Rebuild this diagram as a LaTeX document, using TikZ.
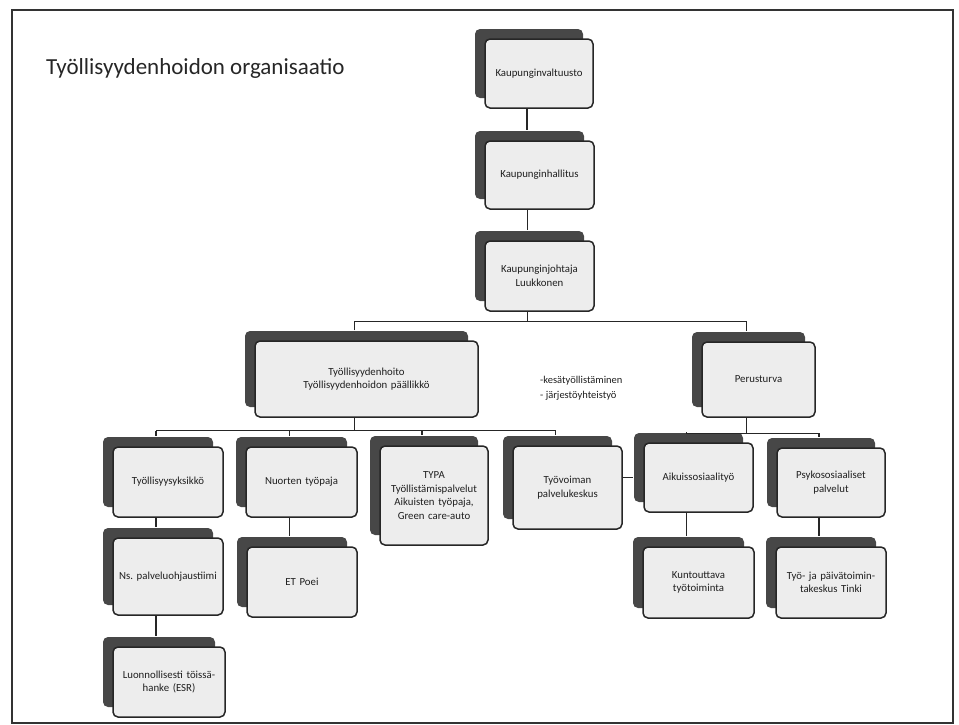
\documentclass[tikz,border=0pt]{standalone}
\usepackage{fontspec}
\setmainfont{Carlito}
\usetikzlibrary{shadows}
\frenchspacing
\newcommand\boxfont{\fontsize{10.8}{13.5}\selectfont}
\tikzset{
  orgbox/.style={draw=black!85, line width=1.5pt, rounded corners=5pt, fill=black!7,
    align=center, font=\boxfont, text=black!88, inner sep=2pt,
    general shadow={fill=black!72, shadow xshift=-10pt, shadow yshift=10pt}},
  conn/.style={draw=black!85, line width=1.9pt},
  bus/.style={draw=black!85, line width=1.3pt},
}
\newcommand\ob[7]{% name, x1,y1,x2,y2, text
  \node[orgbox, minimum width={(#4-#2)*1pt}, minimum height={(#5-#3)*1pt}, text width={(#4-#2-6)*1pt}] (#1) at ({(#2+#4)/2},{(#3+#5)/2}) {#6};}
\begin{document}
\begin{tikzpicture}[x=1pt,y=-1pt]
\useasboundingbox (0,0) rectangle (959,724);
\draw[line width=1.6pt, black!80] (12,10) rectangle (953,723);
\node[anchor=west, font=\fontsize{23}{27}\selectfont, text=black!85, inner sep=0] (title) at (46,68) {Työllisyydenhoidon organisaatio};

\ob{valt}{485}{39}{593}{108}{Kaupunginvaltuusto}{}
\ob{hall}{485}{141}{594}{209}{Kaupunginhallitus}{}
\ob{joht}{485}{241}{594}{311}{Kaupunginjohtaja\\Luukkonen}{}
\ob{tyoll}{255}{341}{478}{417}{Työllisyydenhoito\\Työllisyydenhoidon päällikkö}{}
\ob{perus}{702}{342}{815}{417}{Perusturva}{}
\ob{yks}{113}{447}{223}{517}{Työllisyysyksikkö}{}
\ob{nuor}{246}{447}{357}{517}{Nuorten työpaja}{}
\ob{typa}{380}{446}{488}{545}{TYPA\\Työllistämispalvelut\\Aikuisten työpaja,\\Green care-auto}{}
\ob{tyov}{513}{446}{622}{529}{Työvoiman\\palvelukeskus}{}
\ob{aikuis}{644}{443}{753}{512}{Aikuissosiaalityö}{}
\ob{psyk}{777}{448}{885}{517}{Psykososiaaliset\\palvelut}{}
\ob{ns}{113}{538}{223}{615}{Ns. palveluohjaustiimi}{}
\ob{et}{247}{547}{357}{617}{ET Poei}{}
\ob{luon}{113}{647}{225}{717}{Luonnollisesti töissä-\\hanke (ESR)}{}
\ob{kunt}{643}{547}{754}{618}{Kuntouttava\\työtoiminta}{}
\ob{tinki}{776}{547}{886}{618}{Työ- ja päivätoimin-\\takeskus Tinki}{}

\node[anchor=west, align=left, font=\fontsize{10.5}{15}\selectfont, text=black!88, inner sep=0] (side) at (540,388.5) {-kesätyöllistäminen\\- järjestöyhteistyö};

% connectors
\draw[conn] ([xshift=-12pt]valt.south) -- ([xshift=-12pt,yshift=10pt]valt.south |- hall.north);
\draw[conn] ([xshift=-12pt]hall.south) -- ([xshift=-12pt,yshift=10pt]hall.south |- joht.north);
\coordinate (b1) at ([xshift=-12pt,yshift=-10pt]joht.south);
\draw[conn] ([xshift=-12pt]joht.south) -- (b1);
\draw[bus] ([xshift=-12pt,yshift=10pt]tyoll.north) -- ([xshift=-12pt]tyoll.north |- b1) -- ([xshift=-12pt]perus.north |- b1) -- ([xshift=-12pt,yshift=10pt]perus.north);
% Tyollisyydenhoito branch
\coordinate (b2) at ([xshift=-12pt,yshift=-13pt]tyoll.south);
\draw[conn] ([xshift=-12pt]tyoll.south) -- (b2);
\draw[bus] ([xshift=-12pt]yks.north |- b2) -- ([xshift=-12pt]tyov.north |- b2);
\foreach \n in {yks,nuor,typa,tyov}{
  \draw[bus] ([xshift=-12pt]\n.north |- b2) -- ([xshift=-12pt,yshift=10pt]\n.north);}
% Perusturva branch
\coordinate (b3) at ([xshift=-12pt,yshift=-16pt]perus.south);
\draw[conn] ([xshift=-12pt]perus.south) -- (b3);
\draw[bus] ([xshift=-12pt,yshift=10pt]aikuis.north) -- ([xshift=-12pt]aikuis.north |- b3) -- ([xshift=-12pt]psyk.north |- b3) -- ([xshift=-12pt,yshift=10pt]psyk.north);
% vertical chains
\draw[conn] ([xshift=-12pt]yks.south) -- ([xshift=-12pt,yshift=10pt]yks.south |- ns.north);
\draw[conn] ([xshift=-12pt]ns.south) -- ([xshift=-12pt,yshift=10pt]ns.south |- luon.north);
\draw[conn] ([xshift=-12pt]nuor.south) -- ([xshift=-12pt,yshift=10pt]nuor.south |- et.north);
\draw[conn] ([xshift=-12pt]aikuis.south) -- ([xshift=-12pt,yshift=10pt]aikuis.south |- kunt.north);
\draw[conn] ([xshift=-12pt]psyk.south) -- ([xshift=-12pt,yshift=10pt]psyk.south |- tinki.north);
% horizontal link
\draw[bus] (tyov.east |- aikuis.west) -- ([xshift=-10pt]aikuis.west);
\end{tikzpicture}
\end{document}
